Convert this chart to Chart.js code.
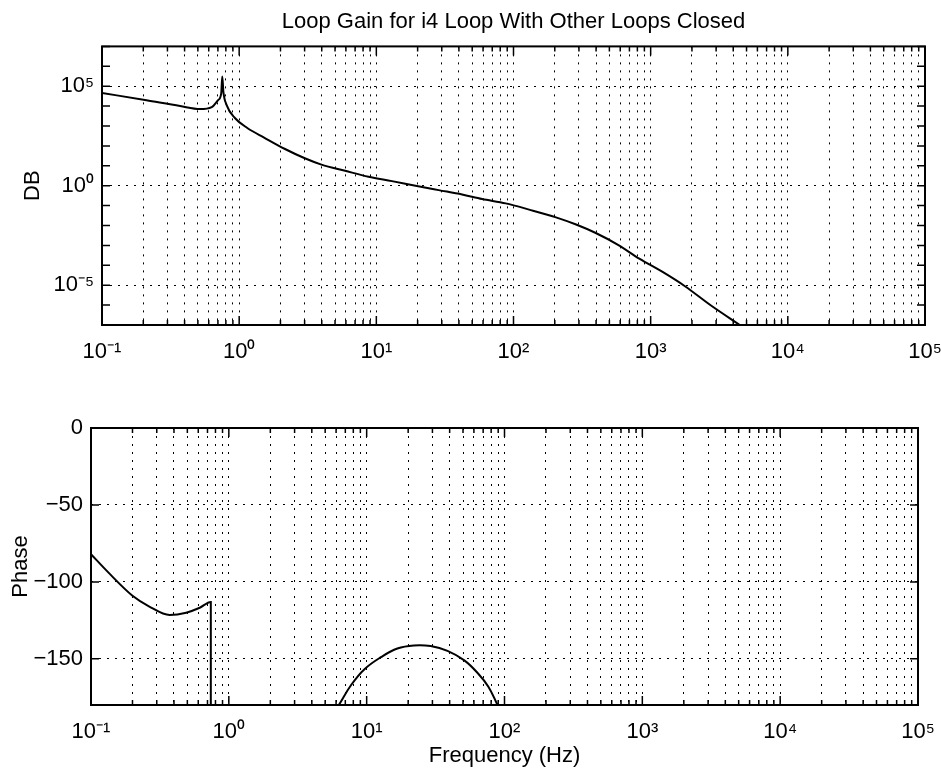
<!DOCTYPE html>
<html><head><meta charset="utf-8">
<script src="https://cdn.jsdelivr.net/npm/chart.js@4.4.1/dist/chart.umd.min.js"></script>
<style>
html,body{margin:0;padding:0;background:#fff;width:941px;height:774px;overflow:hidden}
canvas{position:absolute;left:0}
#top{top:0}
#bot{top:380px}
</style></head><body>
<canvas id="top" width="941" height="380"></canvas>
<canvas id="bot" width="941" height="394"></canvas>
<script>
// ---- data ----
const magFreq  = [0.1, 0.211, 0.371, 0.519, 0.631, 0.702, 0.740, 0.753, 0.767, 0.809, 0.935, 1.146, 1.52, 2.14, 3.01, 3.98, 5.92, 8.77, 13.0, 19.3, 28.5, 42.2, 59, 87.7, 130, 204, 286, 398, 578, 832, 1230, 1778, 2754, 4467];
const magValue = [4.6e4, 1.95e4, 1.0e4, 7.1e3, 8.9e3, 2.0e4, 4.4e4, 3.1e5, 5.4e4, 1.15e4, 2.45e3, 794, 263, 72, 24, 11.5, 5.6, 2.8, 1.7, 1.0, 0.60, 0.36, 0.214, 0.129, 0.063, 0.0257, 0.0112, 4.2e-3, 1.07e-3, 2.1e-4, 4.5e-5, 8.9e-6, 9.5e-7, 1.0e-7];
const phaseFreqA = [0.1, 0.134, 0.2, 0.265, 0.372, 0.49, 0.615, 0.74, 0.74];
const phaseA     = [-82, -94, -109, -116, -121.5, -120, -116.8, -113, -180];
const phaseFreqB = [6.28, 7.76, 9.64, 12.7, 16.7, 22.0, 29.1, 38.6, 51.1, 64.3, 76.4, 89];
const phaseB     = [-180, -166.7, -156.7, -148.9, -143.3, -141.3, -141.7, -144.8, -151.0, -159.5, -168.1, -180];
// ---- axes / ticks ----
const freqDecades = [-1, 0, 1, 2, 3, 4, 5];
const magLabelExps = [-5, 0, 5];
const magTickExps = [-7, -6, -5, -4, -3, -2, -1, 0, 1, 2, 3, 4, 5, 6, 7];
const phaseTicks = [0, -50, -100, -150];
const titleText = 'Loop Gain for i4 Loop With Other Loops Closed';
const magLabel = 'DB';
const phaseLabel = 'Phase';
const freqLabel = 'Frequency (Hz)';

const FONT = "'Liberation Sans', Arial, Helvetica, sans-serif";
const SUP = {'-':'\u207B','0':'\u2070','1':'\u00B9','2':'\u00B2','3':'\u00B3','4':'\u2074','5':'\u2075','6':'\u2076','7':'\u2077','8':'\u2078','9':'\u2079'};
const pow10Label = e => '10' + String(e).split('').map(c => SUP[c]).join('');
const isDecade = v => Math.abs(Math.log10(v) - Math.round(Math.log10(v))) < 1e-9;

// all x tick values: 1..9 x 10^d
const freqTicks = [];
freqDecades.forEach(d => {
  for (let m = 1; m <= 9; m++) {
    const v = m * Math.pow(10, d);
    if (d === freqDecades[freqDecades.length - 1] && m > 1) break;
    freqTicks.push(Number(v.toPrecision(6)));
  }
});
const magLabelValues = magLabelExps.map(e => Math.pow(10, e));
const magTickValues = magTickExps.map(e => Math.pow(10, e));

const toXY = (xs, ys) => xs.map((x, i) => ({x, y: ys[i]}));

const framePlugin = {
  id: 'frame',
  afterDatasetsDraw(chart, args, opts) {
    const {ctx, chartArea: a, scales: {x, y}} = chart;
    ctx.save();
    ctx.setLineDash([]);
    ctx.strokeStyle = '#000';
    ctx.lineWidth = 1.5;
    ctx.beginPath();
    opts.xMarks.forEach(v => {
      const px = x.getPixelForValue(v);
      const len = isDecade(v) ? 9 : 5;
      ctx.moveTo(px, a.bottom); ctx.lineTo(px, a.bottom - len);
      ctx.moveTo(px, a.top); ctx.lineTo(px, a.top + len);
    });
    opts.yMarks.forEach(v => {
      const py = y.getPixelForValue(v);
      ctx.moveTo(a.left, py); ctx.lineTo(a.left + 8, py);
      ctx.moveTo(a.right, py); ctx.lineTo(a.right - 8, py);
    });
    ctx.stroke();
    ctx.lineWidth = 2;
    ctx.strokeRect(a.left, a.top, a.right - a.left, a.bottom - a.top);
    ctx.restore();
  }
};

const gridOpts = {color: '#000', lineWidth: 1, drawTicks: false, drawOnChartArea: true};
const borderOpts = {display: false, dash: [2, 6]};

function xScale(height, title) {
  return {
    type: 'logarithmic', min: 0.1, max: 1e5,
    grid: gridOpts, border: borderOpts,
    afterBuildTicks: s => { s.ticks = freqTicks.map(v => ({value: v})); },
    afterFit: s => { s.height = height; s.paddingLeft = 0; s.paddingRight = 0; },
    ticks: {
      autoSkip: false, maxRotation: 0, minRotation: 0, padding: 14,
      color: '#000', font: {family: FONT, size: 22},
      callback: v => isDecade(v) ? pow10Label(Math.round(Math.log10(v))) : ''
    },
    title: title ? {display: true, text: title, color: '#000', font: {family: FONT, size: 22}, padding: {top: 0, bottom: 5}} : {display: false}
  };
}

new Chart(document.getElementById('top'), {
  type: 'line',
  data: {datasets: [{
    data: toXY(magFreq, magValue),
    borderColor: '#000', borderWidth: 2, pointRadius: 0, fill: false,
    cubicInterpolationMode: 'monotone'
  }]},
  plugins: [framePlugin],
  options: {
    responsive: false, animation: false, devicePixelRatio: 1,
    layout: {padding: {top: 0, left: 0, right: 16, bottom: 0}},
    scales: {
      x: xScale(55, null),
      y: {
        type: 'logarithmic', min: 1e-7, max: 1e7,
        grid: gridOpts, border: borderOpts,
        afterBuildTicks: s => { s.ticks = magLabelValues.map(v => ({value: v})); },
        afterFit: s => { s.width = 102; s.paddingTop = 0; s.paddingBottom = 0; },
        ticks: {
          padding: 8, color: '#000', font: {family: FONT, size: 22},
          callback: v => pow10Label(Math.round(Math.log10(v)))
        },
        title: {display: true, text: magLabel, color: '#000', font: {family: FONT, size: 22}, padding: {top: 20, bottom: 0}}
      }
    },
    plugins: {
      legend: {display: false}, tooltip: {enabled: false},
      title: {display: true, text: titleText, fullSize: false, color: '#000',
              font: {family: FONT, size: 22, weight: 'normal'}, padding: {top: 9, bottom: 11}},
      frame: {xMarks: freqTicks, yMarks: magTickValues}
    }
  }
});

new Chart(document.getElementById('bot'), {
  type: 'line',
  data: {datasets: [
    {data: toXY(phaseFreqA, phaseA), borderColor: '#000', borderWidth: 2, pointRadius: 0, fill: false, cubicInterpolationMode: 'monotone'},
    {data: toXY(phaseFreqB, phaseB), borderColor: '#000', borderWidth: 2, pointRadius: 0, fill: false, tension: 0.4}
  ]},
  plugins: [framePlugin],
  options: {
    responsive: false, animation: false, devicePixelRatio: 1,
    layout: {padding: {top: 48, left: 0, right: 23, bottom: 0}},
    scales: {
      x: xScale(69, freqLabel),
      y: {
        type: 'linear', min: -180, max: 0,
        grid: gridOpts, border: borderOpts,
        afterBuildTicks: s => { s.ticks = phaseTicks.map(v => ({value: v})); },
        afterFit: s => { s.width = 91; s.paddingTop = 0; s.paddingBottom = 0; },
        ticks: {
          padding: 8, color: '#000', font: {family: FONT, size: 22},
          callback: v => String(v).replace('-', '\u2212')
        },
        title: {display: true, text: phaseLabel, color: '#000', font: {family: FONT, size: 22}, padding: {top: 8, bottom: 0}}
      }
    },
    plugins: {
      legend: {display: false}, tooltip: {enabled: false},
      frame: {xMarks: freqTicks, yMarks: phaseTicks}
    }
  }
});
</script>
</body></html>
